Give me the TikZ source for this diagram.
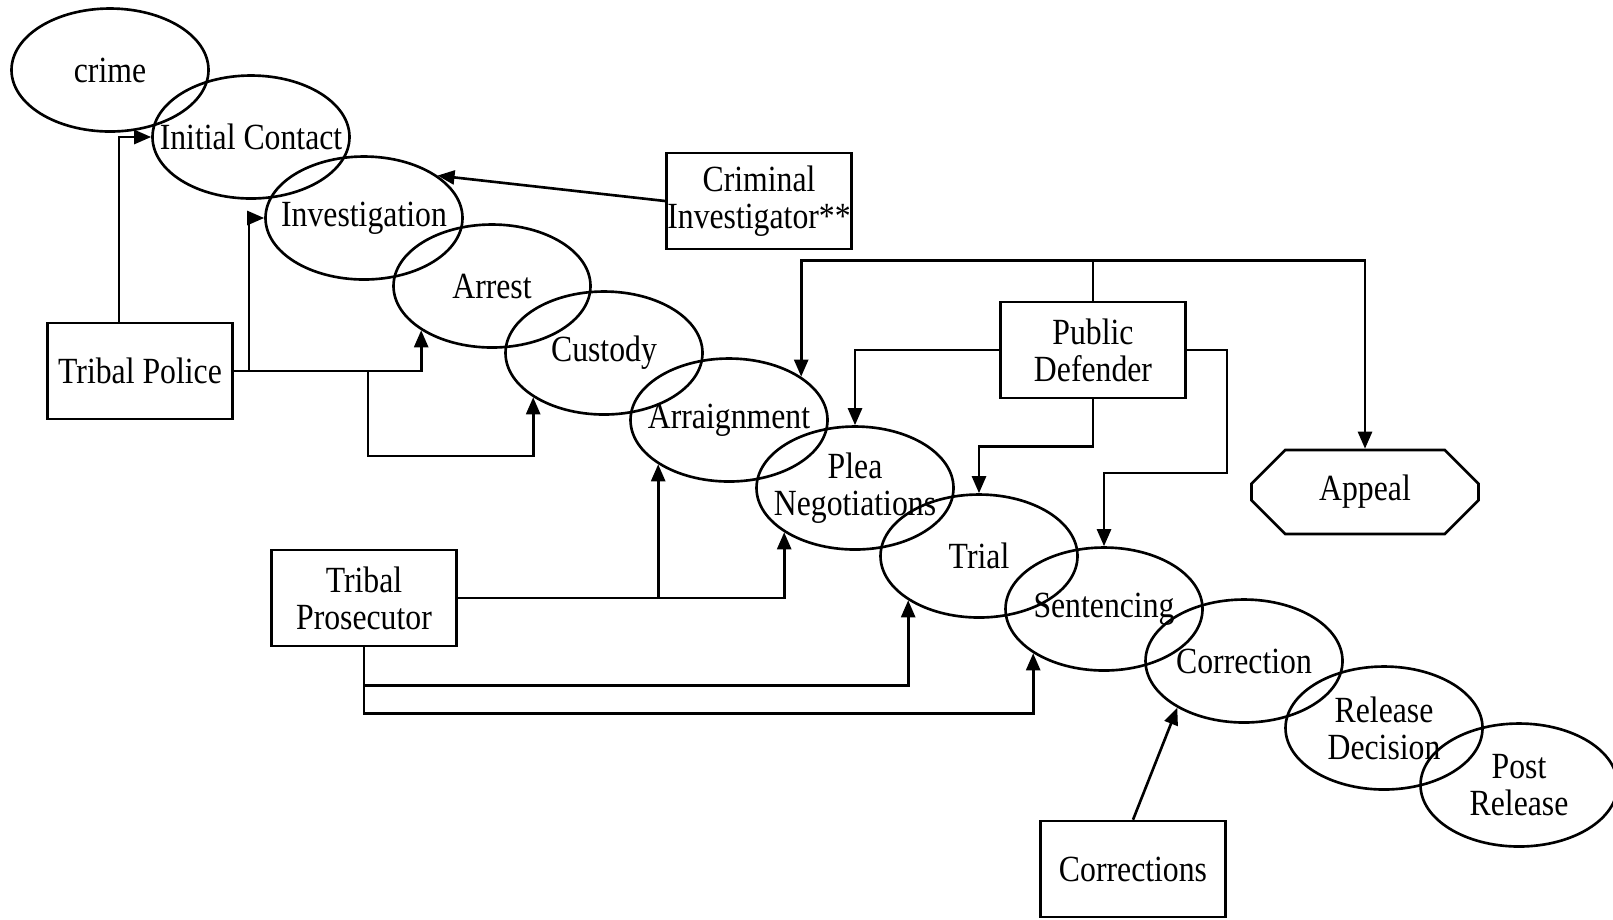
\documentclass[tikz,border=0pt]{standalone}
\usepackage{fontspec}
\setmainfont{Liberation Serif}[FakeStretch=0.86]
\usetikzlibrary{arrows.meta,shapes.geometric,shapes.misc}

\begin{document}
\begin{tikzpicture}[x=0.1mm,y=-0.1mm,line width=0.75pt,
  every node/.style={font=\fontsize{10.5}{10.5}\selectfont,align=center},
  stage/.style={draw,ellipse,minimum width=19.7mm,minimum height=12.3mm,inner sep=0pt},
  agency/.style={draw,rectangle,minimum width=18.5mm,minimum height=9.6mm,inner xsep=0pt},
  flow/.style={-{Triangle[length=1.7mm,width=1.4mm]}}]

\useasboundingbox (0,0) rectangle (1613,919);

% stages of the process
\node[stage,label={center:crime}] (crime) at (110,70) {};
\node[stage,label={center:Initial Contact}] (initial) at (251,137) {};
\node[stage,label={center:Investigation}] (investigation) at (364,218) {};
\node[stage,label={center:Arrest}] (arrest) at (492,286) {};
\node[stage,label={center:Custody}] (custody) at (604,353) {};
\node[stage,label={center:Arraignment}] (arraignment) at (729,420) {};
\node[stage,label={center:Plea\\Negotiations}] (plea) at (855,488) {};
\node[stage,label={center:Trial}] (trial) at (979,556) {};
\node[stage,label={center:Sentencing}] (sentencing) at (1104,609) {};
\node[stage,label={center:Correction}] (correction) at (1244,661) {};
\node[stage,label={center:Release\\Decision}] (release) at (1384,728) {};
\node[stage,label={center:Post\\Release}] (post) at (1519,785) {};

% agencies
\node[agency] (crimi) at (759,201) {Criminal\\Investigator**};
\node[agency] (police) at (140,371) {Tribal Police};
\node[agency] (defender) at (1093,350) {Public\\Defender};
\node[agency] (prosecutor) at (364,598) {Tribal\\Prosecutor};
\node[agency] (corrections) at (1133,869) {Corrections};
\node[draw,chamfered rectangle,chamfered rectangle xsep=2.3mm,
  minimum width=22.7mm,minimum height=8.4mm] (appeal) at (1365,492) {Appeal};

% tribal police
\draw[flow] ([xshift=-2.1mm]police.north) |- (initial.west);
\draw[flow] (police.east) -- ++(15,0) |- (investigation.west);
\draw[flow] (police.east) -| (arrest.212);
\draw[flow] ([xshift=13.4mm]police.east) -- ++(0,85) -| (custody.212);

% criminal investigator
\draw[flow] (crimi.west) -- (investigation.30);

% public defender
\draw[flow] (defender.north) -- ++(0,-40) -| (arraignment.31);
\draw[flow] (defender.north) -- ++(0,-40) -| (appeal.north);
\draw[flow] (defender.west) -| (plea.north);
\draw[flow] (defender.south) -- ++(0,47) -| (trial.north);
\draw[flow] (defender.east) -- ++(40,0) -- ++(0,123) -| (sentencing.north);

% tribal prosecutor
\draw[flow] (prosecutor.east) -| (arraignment.212);
\draw[flow] (prosecutor.east) -| (plea.212);
\draw[flow] (prosecutor.south) -- ++(0,38) -| (trial.212);
\draw[flow] (prosecutor.south) -- ++(0,66) -| (sentencing.212);

% corrections
\draw[flow] (corrections.north) -- (correction.215);

\end{tikzpicture}
\end{document}
